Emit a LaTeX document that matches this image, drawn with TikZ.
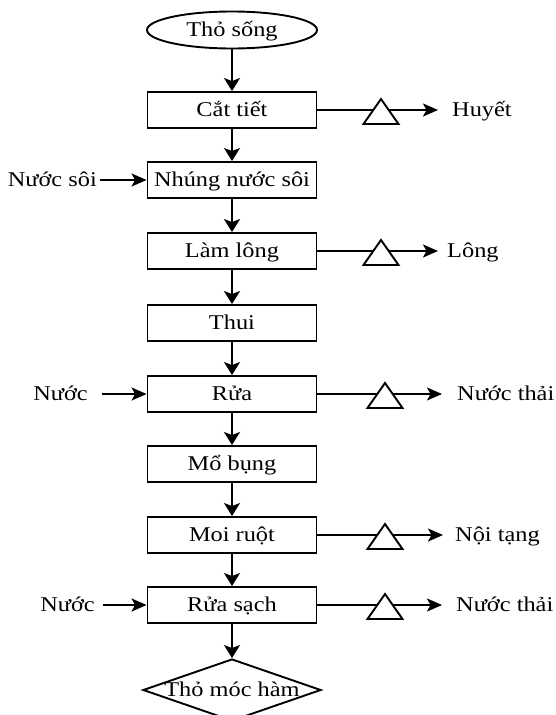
\documentclass[tikz,border=0pt]{standalone}
\usepackage{fontspec}
\setmainfont{Liberation Serif}[FakeStretch=1.16]
\usetikzlibrary{shapes.geometric,arrows.meta}
\begin{document}
\begin{tikzpicture}[x=1pt,y=-1pt,
  every node/.style={font=\fontsize{21}{25}\selectfont,text height=17pt,text depth=4pt},
  proc/.style={draw,line width=1.9pt,minimum width=169pt,minimum height=36pt,inner sep=0pt},
  varr/.style={line width=1.9pt,-{Stealth[length=13pt,width=16pt,inset=3pt]}},
  harr/.style={line width=1.9pt,-{Stealth[length=15pt,width=13pt,inset=3.5pt]}},
  lblr/.style={anchor=west,inner sep=0pt},
  lbll/.style={anchor=east,inner sep=0pt},
  wastetri/.pic={\draw[fill=white,line width=1.9pt] (-17.5,14) -- (0,-11) -- (17.5,14) -- cycle;}]
\useasboundingbox (0,0) rectangle (555,715);

% main column
\node[draw,ellipse,line width=1.9pt,minimum width=170pt,minimum height=37pt,inner sep=0pt] (s0) at (232,30) {Thỏ sống};
\node[proc] (s1) at (232,110) {Cắt tiết};
\node[proc] (s2) at (232,180) {Nhúng nước sôi};
\node[proc] (s3) at (232,251) {Làm lông};
\node[proc] (s4) at (232,323) {Thui};
\node[proc] (s5) at (232,394) {Rửa};
\node[proc] (s6) at (232,464) {Mổ bụng};
\node[proc] (s7) at (232,535) {Moi ruột};
\node[proc] (s8) at (232,605) {Rửa sạch};
\node[draw,diamond,line width=1.9pt,minimum width=178pt,minimum height=62pt,inner sep=0pt,
      label={[inner sep=0pt]center:Thỏ móc hàm}] (s9) at (232,690) {};

\draw[varr] (s0) -- (s1);
\draw[varr] (s1) -- (s2);
\draw[varr] (s2) -- (s3);
\draw[varr] (s3) -- (s4);
\draw[varr] (s4) -- (s5);
\draw[varr] (s5) -- (s6);
\draw[varr] (s6) -- (s7);
\draw[varr] (s7) -- (s8);
\draw[varr] (s8) -- (s9);

% inputs (left)
\node[lbll] (i2) at (97,180) {Nước sôi};
\node[lbll] (i5) at (88,394) {Nước};
\node[lbll] (i8) at (95,605) {Nước};
\draw[harr] ([xshift=3pt]i2.east) -- (s2.west);
\draw[harr] ([xshift=14pt]i5.east) -- (s5.west);
\draw[harr] ([xshift=8pt]i8.east) -- (s8.west);

% outputs (right)
\node[lblr] (o1) at (452,110) {Huyết};
\node[lblr] (o3) at (447,251) {Lông};
\node[lblr] (o5) at (457,394) {Nước thải};
\node[lblr] (o7) at (455,535) {Nội tạng};
\node[lblr] (o8) at (456,605) {Nước thải};
\coordinate (e1) at (438,110);
\coordinate (e3) at (438,251);
\coordinate (e5) at (442,394);
\coordinate (e7) at (443,535);
\coordinate (e8) at (442,605);
\draw[harr] (s1.east) -- (e1);
\draw[harr] (s3.east) -- (e3);
\draw[harr] (s5.east) -- (e5);
\draw[harr] (s7.east) -- (e7);
\draw[harr] (s8.east) -- (e8);
\pic at (381,110) {wastetri};
\pic at (381,251) {wastetri};
\pic at (385,394) {wastetri};
\pic at (385,535) {wastetri};
\pic at (385,605) {wastetri};
\end{tikzpicture}
\end{document}
